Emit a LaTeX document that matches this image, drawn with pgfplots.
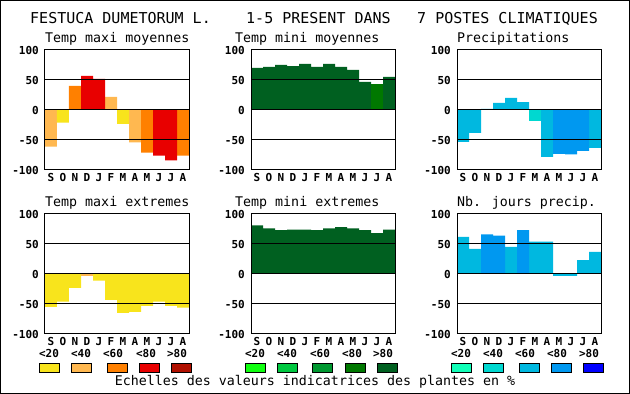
\documentclass[border=0pt]{standalone}
\usepackage{pgfplots}
\pgfplotsset{compat=1.18}
\usepackage{fontspec}
\setmainfont{DejaVu Sans Mono}
\setmonofont{DejaVu Sans Mono}
\definecolor{yel}{HTML}{F8E41C}
\definecolor{lor}{HTML}{FFB850}
\definecolor{ora}{HTML}{FF8000}
\definecolor{rd}{HTML}{E80000}
\definecolor{drd}{HTML}{B01000}
\definecolor{ga}{HTML}{10FF10}
\definecolor{gb}{HTML}{00C840}
\definecolor{gc}{HTML}{009830}
\definecolor{gd}{HTML}{007800}
\definecolor{ge}{HTML}{006020}
\definecolor{ba}{HTML}{10FFB8}
\definecolor{bb}{HTML}{00D8D0}
\definecolor{bc}{HTML}{00B8E0}
\definecolor{bd}{HTML}{0098F0}
\definecolor{be}{HTML}{0000FF}
\newcommand{\tkfont}{\fontsize{11}{11}\selectfont\bfseries}
\newcommand{\ttlfont}{\fontsize{13.3}{13.3}\selectfont}
\pgfplotsset{
  panel/.style={
    scale only axis, width=144pt, height=120pt, anchor=south west,
    xmin=0, xmax=12, ymin=-100, ymax=100, enlargelimits=false,
    ytick={-100,-50,0,50,100},
    xtick={0.5,1.5,2.5,3.5,4.5,5.5,6.5,7.5,8.5,9.5,10.5,11.5},
    xticklabels={S,O,N,D,J,F,M,A,M,J,J,A},
    ymajorgrids, grid style={black, line width=1pt},
    axis line style={line width=1pt},
    major tick length=0pt,
    axis on top,
    ybar, bar width=1, bar shift=0pt,
    /pgf/number format/assume math mode=true,
    yticklabel style={font=\tkfont, inner sep=0pt, xshift=-6pt},
    xticklabel style={font=\tkfont, inner sep=0pt, yshift=-3pt},
  },
  bb/.style={draw=none, fill=#1, bar shift=0pt, bar width=1},
}
\begin{document}
\begin{tikzpicture}
\useasboundingbox (0pt,0pt) rectangle (630pt,394pt);
\draw[line width=1pt] (0.5pt,0.5pt) rectangle (629.5pt,393.5pt);
% main title
\node[anchor=base west, inner sep=0pt, font=\fontsize{15}{15}\selectfont] at (30pt,370.5pt) {FESTUCA DUMETORUM L.};
\node[anchor=base west, inner sep=0pt, font=\fontsize{15}{15}\selectfont] at (246pt,370.5pt) {1-5 PRESENT DANS};
\node[anchor=base west, inner sep=0pt, font=\fontsize{15}{15}\selectfont] at (417pt,370.5pt) {7 POSTES CLIMATIQUES};
% panel titles
\node[anchor=base west, inner sep=0pt, font=\ttlfont] at (45pt,351pt) {Temp maxi moyennes};
\node[anchor=base west, inner sep=0pt, font=\ttlfont] at (235pt,351pt) {Temp mini moyennes};
\node[anchor=base west, inner sep=0pt, font=\ttlfont] at (457pt,351pt) {Precipitations};
\node[anchor=base west, inner sep=0pt, font=\ttlfont] at (45pt,187pt) {Temp maxi extremes};
\node[anchor=base west, inner sep=0pt, font=\ttlfont] at (235pt,187pt) {Temp mini extremes};
\node[anchor=base west, inner sep=0pt, font=\ttlfont] at (457pt,187pt) {Nb. jours precip.};

% Panel 1: Temp maxi moyennes
\begin{axis}[panel, at={(45pt,224pt)}]
\addplot[bb=lor] coordinates {(0.5,-61) (5.5,22) (7.5,-54)};
\addplot[bb=yel] coordinates {(1.5,-21) (6.5,-23)};
\addplot[bb=ora] coordinates {(2.5,40) (8.5,-71) (11.5,-76)};
\addplot[bb=rd] coordinates {(3.5,57) (4.5,52) (9.5,-76) (10.5,-84)};
\end{axis}
% Panel 2: Temp mini moyennes
\begin{axis}[panel, at={(251pt,224pt)}]
\addplot[bb=ge] coordinates {(0.5,70) (1.5,72) (2.5,75) (3.5,73) (4.5,77) (5.5,72) (6.5,77) (7.5,72) (8.5,67) (9.5,47) (11.5,55)};
\addplot[bb=gd] coordinates {(10.5,43)};
\end{axis}
% Panel 3: Precipitations
\begin{axis}[panel, at={(457pt,224pt)}]
\addplot[bb=bc] coordinates {(0.5,-53) (1.5,-38) (2.5,2) (3.5,12) (4.5,20) (5.5,13) (7.5,-78) (11.5,-63)};
\addplot[bb=bb] coordinates {(6.5,-18)};
\addplot[bb=bd] coordinates {(8.5,-73) (9.5,-74) (10.5,-68)};
\end{axis}
% Panel 4: Temp maxi extremes
\begin{axis}[panel, at={(45pt,60pt)}]
\addplot[bb=yel] coordinates {(0.5,-55) (1.5,-46) (2.5,-23) (4.5,-11) (5.5,-43) (6.5,-65) (7.5,-63) (8.5,-53) (9.5,-46) (10.5,-53) (11.5,-56)};
\addplot[bb=lor] coordinates {(3.5,-4)};
\end{axis}
% Panel 5: Temp mini extremes
\begin{axis}[panel, at={(251pt,60pt)}]
\addplot[bb=ge] coordinates {(0.5,81) (1.5,76) (2.5,73) (3.5,74) (4.5,74) (5.5,73) (6.5,76) (7.5,78) (8.5,76) (9.5,73) (10.5,68) (11.5,74)};
\end{axis}
% Panel 6: Nb. jours precip.
\begin{axis}[panel, at={(457pt,60pt)}]
\addplot[bb=bc] coordinates {(0.5,62) (1.5,42) (4.5,45) (6.5,54) (7.5,54) (8.5,-3) (9.5,-3) (10.5,23) (11.5,37)};
\addplot[bb=bd] coordinates {(2.5,66) (3.5,64) (5.5,73)};
\end{axis}

% scale labels
\foreach \x/\t in {49/{<20},81/{<40},113/{<60},146/{<80},177/{>80},
                   255/{<20},287/{<40},320/{<60},352/{<80},383/{>80},
                   461/{<20},493/{<40},525/{<60},557/{<80},589/{>80}}
  \node[anchor=base, inner sep=0pt, font=\tkfont] at (\x pt,36pt) {\t};
% swatches
\foreach \x/\c in {39/yel,71/lor,107/ora,139/rd,171/drd,
                   245/ga,277/gb,312/gc,345/gd,377/ge,
                   451/ba,483/bb,519/bc,551/bd,583/be}
  \draw[line width=1pt, fill=\c] (\x pt+0.5pt,21.5pt) rectangle (\x pt+20.5pt,30.5pt);
\node[anchor=base, inner sep=0pt, font=\ttlfont] at (315pt,8pt) {Echelles des valeurs indicatrices des plantes en \%};
\end{tikzpicture}
\end{document}
